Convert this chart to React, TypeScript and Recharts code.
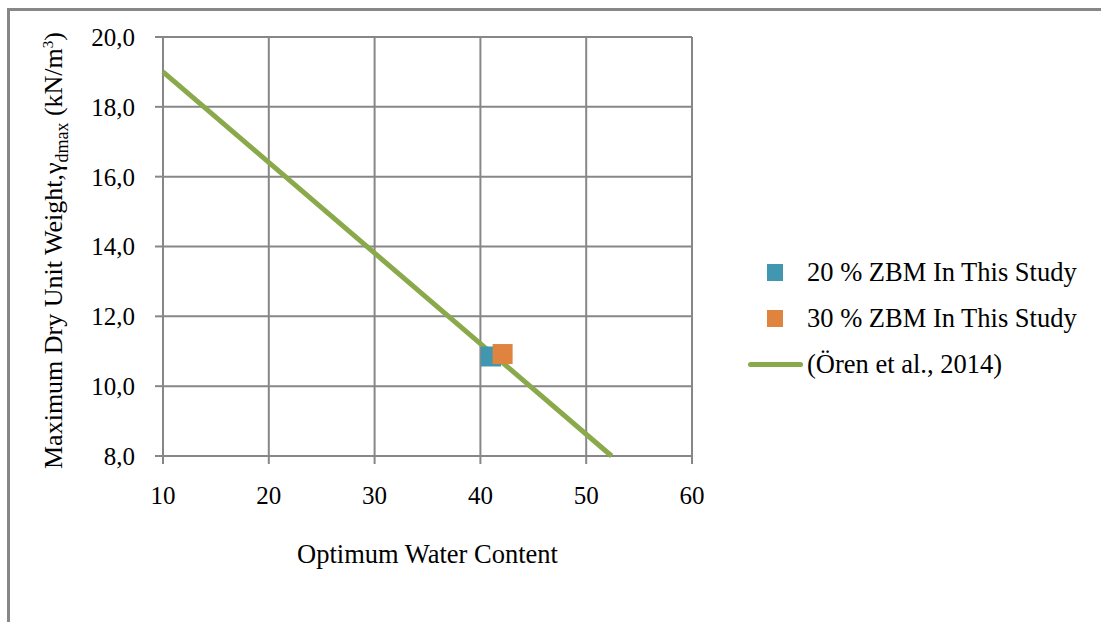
import React from "react";
import {
  ScatterChart,
  Scatter,
  XAxis,
  YAxis,
  CartesianGrid,
  Label,
} from "recharts";

// optimum water content (%) vs. maximum dry unit weight (kN/m3)
const zbm20Water = [41.0];
const zbm20Weight = [10.85];
const zbm30Water = [42.1];
const zbm30Weight = [10.92];
const orenWater = [10, 52.4];
const orenWeight = [19.0, 8.0];

const xTicks = [10, 20, 30, 40, 50, 60];
const yTicks = [8, 10, 12, 14, 16, 18, 20];

const seriesNames = [
  "20 % ZBM In This Study",
  "30 % ZBM In This Study",
  "(Ören et al., 2014)",
];

const BLUE = "#4197B0";
const ORANGE = "#DF843E";
const GREEN = "#8AA94A";
const GRID = "#878787";
const FONT = "'Liberation Serif', 'Times New Roman', serif";

const toPoints = (xs: number[], ys: number[]) =>
  xs.map((x, i) => ({ x, y: ys[i] }));

const zbm20 = toPoints(zbm20Water, zbm20Weight);
const zbm30 = toPoints(zbm30Water, zbm30Weight);
const oren = toPoints(orenWater, orenWeight);

const squareShape = (color: string) => (props: any) => {
  const s = 20;
  return (
    <rect
      x={props.cx - s / 2}
      y={props.cy - s / 2}
      width={s}
      height={s}
      fill={color}
    />
  );
};

const YTitle = (props: any) => {
  const vb = props.viewBox || { x: 0, y: 0, width: 0, height: 0 };
  const cx = vb.x - 21;
  const cy = vb.y + vb.height / 2 + 4;
  return (
    <text
      x={cx}
      y={cy}
      transform={`rotate(-90 ${cx} ${cy})`}
      textAnchor="middle"
      fontFamily={FONT}
      fontSize={26}
      fill="#000"
    >
      Maximum Dry Unit Weight,γ
      <tspan dy={6} fontSize={18}>
        dmax
      </tspan>
      <tspan dy={-6}> (kN/m</tspan>
      <tspan dy={-9} fontSize={15}>
        3
      </tspan>
      <tspan dy={9}>)</tspan>
    </text>
  );
};

const tickStyle = { fontFamily: FONT, fontSize: 25, fill: "#000" };

export default function App() {
  return (
    <div
      style={{
        position: "absolute",
        left: 0,
        top: 0,
        width: 1101,
        height: 622,
        background: "#fff",
        overflow: "hidden",
      }}
    >
      <div
        style={{
          position: "absolute",
          left: 7,
          top: 8,
          width: 1100,
          height: 620,
          borderLeft: `3px solid ${GRID}`,
          borderTop: `3px solid ${GRID}`,
        }}
      />
      <ScatterChart
        width={1101}
        height={622}
        margin={{ top: 37, right: 409, left: 83, bottom: 57 }}
        style={{ position: "absolute", left: 0, top: 0 }}
      >
        <CartesianGrid stroke={GRID} strokeWidth={2} />
        <XAxis
          type="number"
          dataKey="x"
          domain={[10, 60]}
          ticks={xTicks}
          height={109}
          tick={tickStyle}
          tickSize={8}
          tickMargin={22}
          axisLine={{ stroke: GRID, strokeWidth: 2 }}
          tickLine={{ stroke: GRID, strokeWidth: 2 }}
        >
          <Label
            value="Optimum Water Content"
            position="insideBottom"
            offset={2}
            style={{ fontFamily: FONT, fontSize: 26.5, fill: "#000" }}
          />
        </XAxis>
        <YAxis
          type="number"
          dataKey="y"
          domain={[8, 20]}
          ticks={yTicks}
          width={80}
          tick={tickStyle}
          tickSize={8}
          tickMargin={20}
          tickFormatter={(v: number) => v.toFixed(1).replace(".", ",")}
          axisLine={{ stroke: GRID, strokeWidth: 2 }}
          tickLine={{ stroke: GRID, strokeWidth: 2 }}
        >
          <Label content={<YTitle />} />
        </YAxis>
        <Scatter
          name={seriesNames[2]}
          data={oren}
          line={{ stroke: GREEN, strokeWidth: 5 }}
          shape={() => <g />}
          isAnimationActive={false}
        />
        <Scatter
          name={seriesNames[0]}
          data={zbm20}
          shape={squareShape(BLUE)}
          isAnimationActive={false}
        />
        <Scatter
          name={seriesNames[1]}
          data={zbm30}
          shape={squareShape(ORANGE)}
          isAnimationActive={false}
        />
      </ScatterChart>
      <div
        style={{
          position: "absolute",
          left: 745,
          top: 249,
          fontFamily: FONT,
          fontSize: 26.5,
          color: "#000",
        }}
      >
        {[BLUE, ORANGE].map((c, i) => (
          <div
            key={seriesNames[i]}
            style={{ display: "flex", alignItems: "center", height: 46 }}
          >
            <div style={{ width: 22 }} />
            <div style={{ width: 16, height: 17, background: c }} />
            <div style={{ width: 24 }} />
            <span>{seriesNames[i]}</span>
          </div>
        ))}
        <div style={{ display: "flex", alignItems: "center", height: 46 }}>
          <div
            style={{
              width: 55,
              height: 5,
              borderRadius: 3,
              background: GREEN,
              marginLeft: 3,
            }}
          />
          <span style={{ marginLeft: 4 }}>{seriesNames[2]}</span>
        </div>
      </div>
    </div>
  );
}
